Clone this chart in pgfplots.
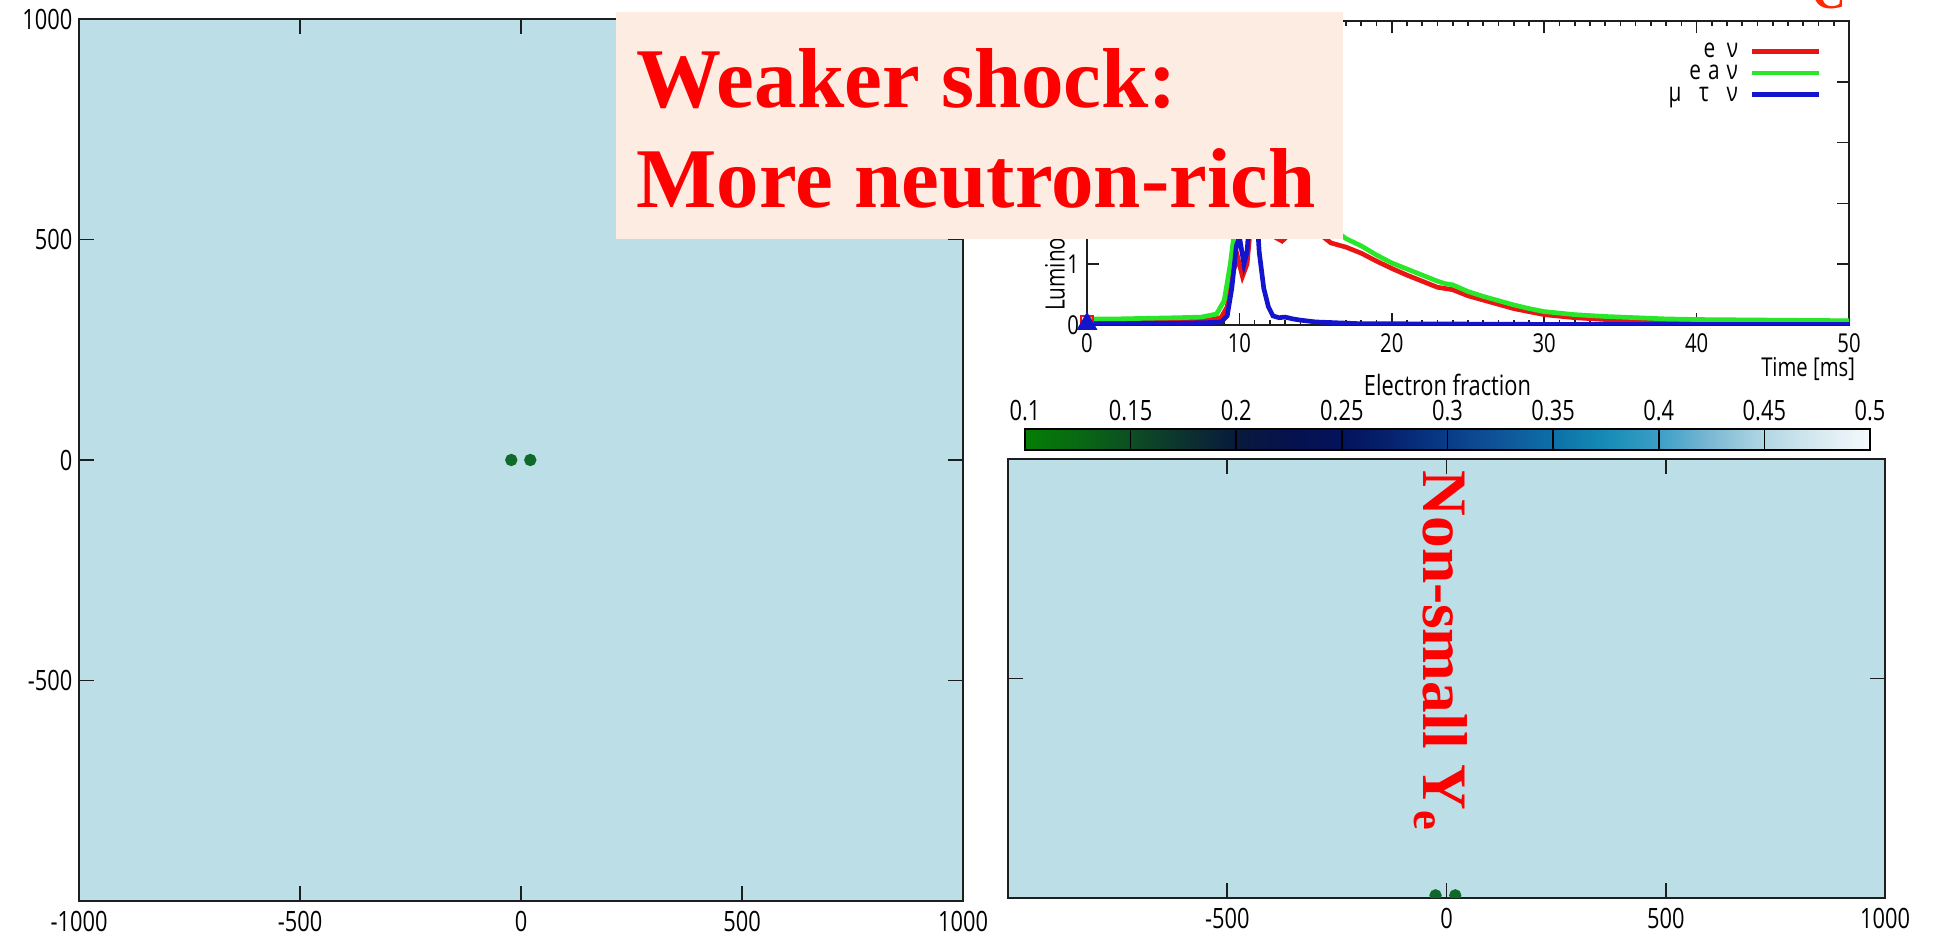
\documentclass[border=0pt]{standalone}
\usepackage{pgfplots}
\pgfplotsset{compat=1.18}
\usepackage{fontspec}
\setmainfont{Liberation Serif}
\newfontfamily\lab[FakeStretch=0.78]{Open Sans}
\definecolor{panelbg}{RGB}{188,222,230}
\definecolor{boxbg}{RGB}{253,236,226}
\definecolor{dotgreen}{RGB}{15,105,40}
\definecolor{cred}{RGB}{235,20,20}
\definecolor{cgreen}{RGB}{40,230,40}
\definecolor{cblue}{RGB}{20,20,205}
\definecolor{frame}{RGB}{30,30,30}
\pgfplotsset{
  panel/.style={
    scale only axis, anchor=south west,
    axis line style={frame, line width=0.6pt},
    tick align=inside, tick style={frame, line width=0.5pt},
    major tick length=4.5pt,
    /pgf/number format/assume math mode=true,
    /pgf/number format/1000 sep={},
    scaled ticks=false,
    tick label style={font=\lab\fontsize{8.4}{10}\selectfont},
  }
}
\begin{document}
\begin{tikzpicture}
\useasboundingbox (0pt,0pt) rectangle (581.7pt,281.1pt);
\fill[white] (0pt,0pt) rectangle (581.7pt,281.1pt);

% ---------- left panel (x-y plane) ----------
\begin{axis}[panel,
  at={(23.7pt,10.8pt)}, width=265.2pt, height=264.6pt,
  xmin=-1000, xmax=1000, ymin=-1000, ymax=1000,
  xtick={-1000,-500,0,500,1000}, ytick={-500,0,500,1000},
  axis background/.style={fill=panelbg},
  xticklabel style={inner sep=0pt, yshift=-3pt},
  yticklabel style={inner sep=0pt, xshift=-1.8pt},
]
\addplot[only marks, mark=*, mark size=1.65pt, dotgreen] coordinates {(-22,0) (21,0)};
\end{axis}

% ---------- bottom-right panel (x-z plane) with colorbar ----------
\begin{axis}[panel,
  at={(302.4pt,11.7pt)}, width=263.1pt, height=131.7pt,
  xmin=-1000, xmax=1000, ymin=0, ymax=1000,
  xtick={-500,0,500,1000}, ytick={500}, yticklabels={},
  axis background/.style={fill=panelbg},
  xticklabel style={inner sep=0pt, yshift=-3pt},
  clip marker paths=true,
  point meta min=0.1, point meta max=0.5,
  colormap={yef}{
    rgb255=(5,125,5) rgb255=(8,105,18) rgb255=(13,78,35) rgb255=(12,50,48)
    rgb255=(8,26,60) rgb255=(5,18,78) rgb255=(4,18,92) rgb255=(6,36,112)
    rgb255=(9,60,135) rgb255=(15,85,152) rgb255=(12,112,168) rgb255=(22,140,182)
    rgb255=(60,158,198) rgb255=(125,185,212) rgb255=(178,215,228) rgb255=(215,233,240)
    rgb255=(245,250,252)},
  colorbar horizontal,
  colorbar shift/.style={},
  colorbar style={
    at={(parent axis.north west)}, anchor=south west,
    xshift=5.1pt, yshift=2.7pt,
    scale only axis, width=253.5pt, height=6.3pt,
    xmin=0.1, xmax=0.5,
    xtick={0.1,0.15,0.2,0.25,0.3,0.35,0.4,0.45,0.5},
    xticklabels={0.1,0.15,0.2,0.25,0.3,0.35,0.4,0.45,0.5},
    ytick=\empty,
    xticklabel pos=upper,
    every x tick label/.style={font=\lab\fontsize{8.4}{10}\selectfont, inner sep=0pt, yshift=2.2pt},
    xmajorgrids, major grid style={black, line width=0.5pt},
    major tick length=0pt,
    axis on top,
    axis line style={black, line width=0.5pt},
    xlabel={Electron fraction},
    xlabel style={font=\lab\fontsize{8.4}{10}\selectfont, inner sep=0pt, yshift=1.2pt},
  },
]
\addplot[only marks, mark=*, mark size=1.65pt, dotgreen] coordinates {(-25,6) (20,6)};
\end{axis}

% ---------- luminosity panel ----------
\begin{axis}[panel,
  at={(326.1pt,183.6pt)}, width=228.6pt, height=91.2pt,
  xmin=0, xmax=50, ymin=0, ymax=5,
  xtick={0,10,20,30,40,50}, ytick={0,1,2,3,4,5},
  yticklabels={0,1,,,,},
  minor x tick num=9,
  major tick length=3.6pt, minor tick length=1.5pt,
  axis background/.style={fill=white},
  tick label style={font=\lab\fontsize{7.8}{9}\selectfont},
  xticklabel style={inner sep=0pt, yshift=-2.4pt},
  yticklabel style={inner sep=0pt, xshift=-2.2pt},
  xlabel={Time [ms]},
  xlabel style={font=\lab\fontsize{7.8}{9}\selectfont, at={(axis description cs:1,0)}, anchor=north east, inner sep=0pt, yshift=-9.5pt, xshift=2pt},
  legend plot pos=right,
  legend style={at={(axis description cs:0.9646,0.9375)}, anchor=north east, draw=none, fill=none,
    font=\lab\fontsize{8}{9}\selectfont,
    inner sep=0pt, row sep=0pt, column sep=3.6pt,
    cells={anchor=east},
    nodes={inner sep=0pt, text height=5.2pt, text depth=1.3pt}},
  legend image code/.code={\draw[#1, line width=1.4pt] (0pt,0pt) -- (20pt,0pt);},
]
\addplot[cred, line width=1.4pt, mark=square, mark indices={1}, mark size=1.8pt, mark options={line width=0.8pt}] coordinates {
(0,0.05) (2,0.05) (4,0.06) (6,0.07) (8,0.08) (8.8,0.12) (9.2,0.3) (9.6,0.9) (9.9,1.1) (10.2,0.8)
(10.5,1.0) (10.8,1.8) (11.2,2.2) (11.8,1.9) (12.3,1.45) (12.8,1.38) (13.3,1.5) (14,1.7) (15,1.55)
(16,1.35) (17,1.28) (18,1.18) (19,1.05) (20,0.93) (21,0.82) (22,0.72) (23,0.62) (23.5,0.6) (24,0.58)
(25,0.48) (26,0.41) (27,0.34) (28,0.27) (29,0.22) (30,0.17) (32,0.12) (34,0.09) (36,0.08) (38,0.06)
(40,0.05) (45,0.04) (50,0.04)};
\addlegendentry{e\kern1.8pt\ ν}
\addplot[cgreen, line width=1.4pt] coordinates {
(0,0.1) (2,0.1) (4,0.11) (6,0.12) (7.5,0.13) (8.5,0.18) (9.0,0.4) (9.4,1.0) (9.7,1.6) (10.0,2.2)
(10.5,2.6) (11,3.0) (12,2.8) (13,2.4) (14,2.0) (15,1.8) (16,1.6) (17,1.42) (18,1.3) (19,1.15)
(20,1.02) (21,0.92) (22,0.82) (23,0.72) (23.5,0.68) (24,0.66) (25,0.55) (26,0.47) (27,0.4) (28,0.33)
(29,0.27) (30,0.22) (32,0.17) (34,0.14) (36,0.12) (38,0.1) (40,0.09) (45,0.08) (50,0.07)};
\addlegendentry{e\kern0.5pt\ a\kern0.5pt\ ν}
\addplot[cblue, line width=1.4pt, mark=triangle*, mark indices={1}, mark size=2.2pt] coordinates {
(0,0.02) (2,0.02) (4,0.03) (6,0.03) (8,0.04) (8.8,0.05) (9.2,0.15) (9.5,0.6) (9.8,1.3) (10.0,1.45)
(10.3,1.0) (10.5,1.2) (10.8,2.2) (11.0,2.4) (11.3,1.2) (11.6,0.6) (11.9,0.3) (12.2,0.15) (12.6,0.12)
(13,0.13) (13.5,0.1) (14,0.08) (15,0.05) (16,0.04) (18,0.02) (20,0.02) (30,0.01) (40,0.01) (50,0.01)};
\addlegendentry{μ\kern3.7pt\ τ\kern3.7pt\ ν}
\end{axis}
\node[rotate=90, anchor=west, inner sep=0pt, font=\lab\fontsize{8}{9}\selectfont] at (317pt,187.6pt) {Luminosity [10$^{53}$ erg/s]};

% ---------- overlay annotations ----------
\fill[boxbg] (184.8pt,209.4pt) rectangle (402.9pt,277.5pt);
\node[anchor=base west, inner sep=0pt, text=red, font=\bfseries\fontsize{25.5}{30}\selectfont] at (190.8pt,248.7pt) {Weaker shock:};
\node[anchor=base west, inner sep=0pt, text=red, font=\bfseries\fontsize{25.5}{30}\selectfont] at (190.8pt,218.7pt) {More neutron-rich};
\node[anchor=base west, inner sep=0pt, rotate=-90, text=red, font=\bfseries\fontsize{19}{23}\selectfont] at (427pt,140.1pt) {Non-small Y\textsubscript{e}};
\node[anchor=base, inner sep=0pt, text={rgb,255:red,255;green,40;blue,0}, font=\bfseries\fontsize{14}{16}\selectfont] at (548.7pt,278.4pt) {C};
\end{tikzpicture}
\end{document}
